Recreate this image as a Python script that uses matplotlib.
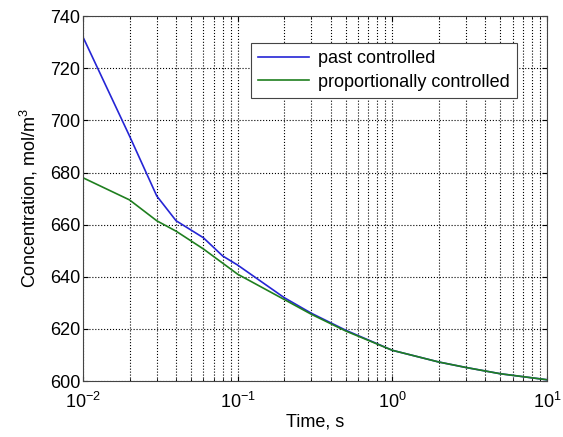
import matplotlib
matplotlib.use("Agg")
import matplotlib.pyplot as plt
from matplotlib.ticker import LogLocator, NullFormatter

plt.rcParams['font.family'] = ['Liberation Sans', 'DejaVu Sans']
plt.rcParams['mathtext.fontset'] = 'custom'
plt.rcParams['mathtext.rm'] = 'Liberation Sans'

# values
t_past = [0.01, 0.02, 0.03, 0.04, 0.06, 0.08, 0.1, 0.2, 0.3, 0.5, 1, 2, 3, 5, 10]
c_past = [732, 694, 671, 661.5, 655, 648, 644.5, 632, 626, 619.5, 611.8, 607.3, 605.2, 602.8, 600.5]

t_prop = [0.01, 0.02, 0.03, 0.04, 0.06, 0.1, 0.2, 0.3, 0.5, 1, 2, 3, 5, 10]
c_prop = [678, 669.5, 661.5, 657.5, 650.7, 641, 631.3, 625.6, 619.2, 611.8, 607.3, 605.2, 602.8, 600.5]

fig = plt.figure(figsize=(5.63, 4.37), dpi=100)
ax = fig.add_axes([0.1474, 0.128, 0.8242, 0.835])

ax.plot(t_past, c_past, color='#2525d5', lw=1.2, label='past controlled')
ax.plot(t_prop, c_prop, color='#1f7f1f', lw=1.2, label='proportionally controlled')

ax.set_xscale('log')
ax.set_xlim(0.01, 10)
ax.set_ylim(600, 740)
ax.set_yticks(range(600, 741, 20))
ax.xaxis.set_minor_locator(LogLocator(base=10, subs=range(2, 10)))
ax.xaxis.set_minor_formatter(NullFormatter())

ax.grid(True, which='major', axis='both', color='k', ls=':', lw=0.8)
ax.grid(True, which='minor', axis='x', color='k', ls=':', lw=0.8)
ax.tick_params(which='both', direction='in', top=True, right=True, labelsize=13)
ax.tick_params(axis='y', pad=2)
ax.tick_params(axis='x', pad=8)
for s in ax.spines.values():
    s.set_color('#444444')

ax.set_xlabel('Time, s', fontsize=13, labelpad=1)
ax.set_ylabel('Concentration, mol/m$^3$', fontsize=13, labelpad=7)

leg = ax.legend(loc='upper right', bbox_to_anchor=(0.935, 0.926), fontsize=13,
                fancybox=False, framealpha=1, edgecolor='#444444',
                handlelength=2.8, handletextpad=0.5, borderpad=0.4,
                labelspacing=0.35, borderaxespad=0)
leg.get_frame().set_linewidth(0.8)

fig.savefig('out.png', dpi=100)
